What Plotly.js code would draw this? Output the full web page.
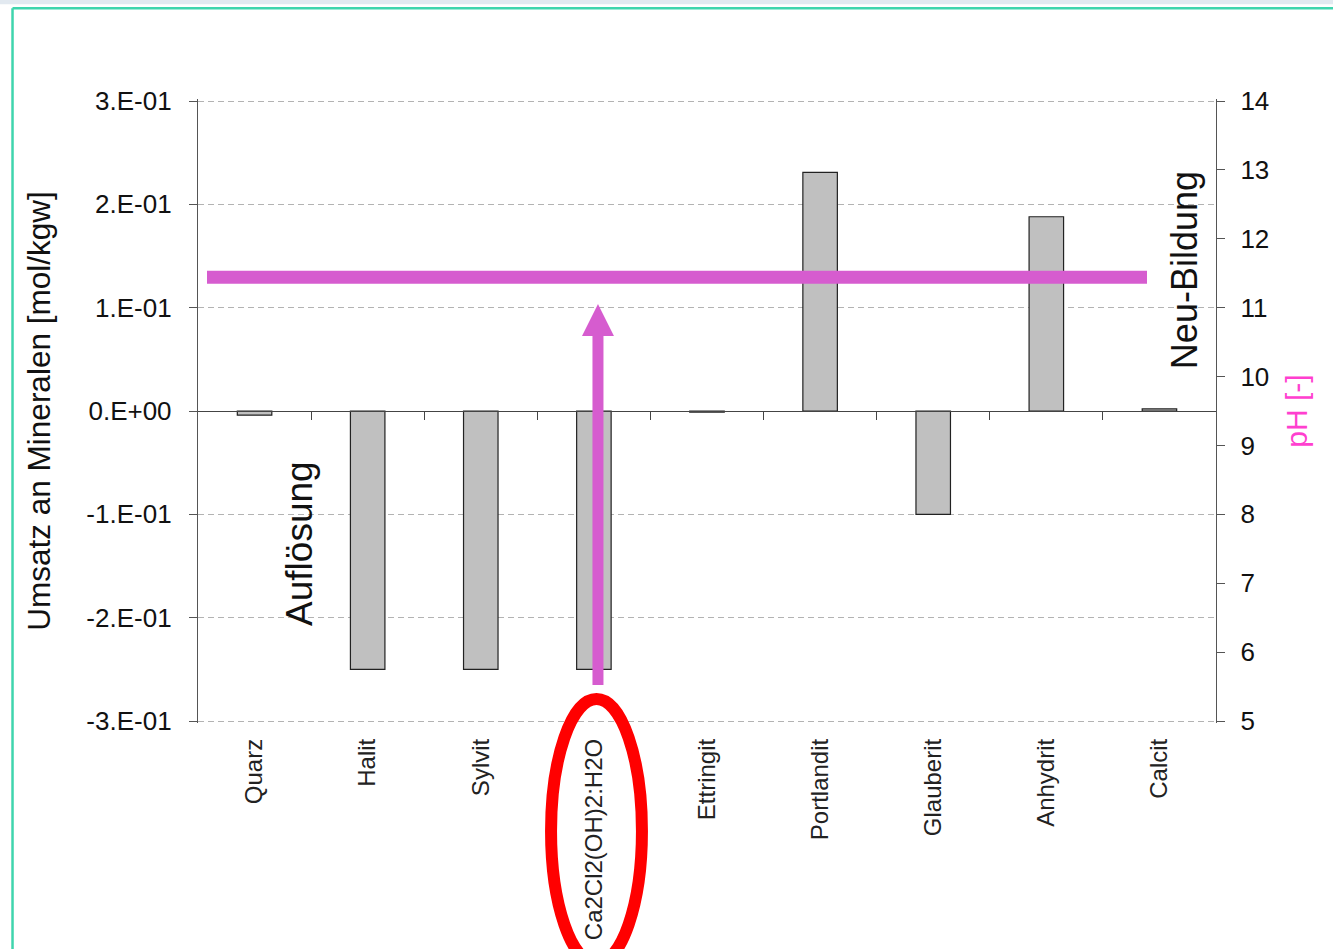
<!DOCTYPE html>
<html>
<head>
<meta charset="utf-8">
<script src="https://cdn.plot.ly/plotly-3.0.1.min.js"></script>
<style>
html,body{margin:0;padding:0;background:#fff;}
#chart{width:1333px;height:949px;}
</style>
</head>
<body>
<div id="chart"></div>
<script>
// ---- data ----
var minerals = ["Quarz", "Halit", "Sylvit", "Ca2Cl2(OH)2:H2O", "Ettringit", "Portlandit", "Glauberit", "Anhydrit", "Calcit"];
var umsatz = [-0.004, -0.25, -0.25, -0.25, -0.001, 0.231, -0.1, 0.188, 0.002];
var leftTickVals = [0.3, 0.2, 0.1, 0, -0.1, -0.2, -0.3];
var leftTickText = ["3.E-01", "2.E-01", "1.E-01", "0.E+00", "-1.E-01", "-2.E-01", "-3.E-01"];
var phTickVals = [5, 6, 7, 8, 9, 10, 11, 12, 13, 14];
var phValue = 11.44;
var phSpan = [0, 1];
var boundaryTicks = [0.5, 1.5, 2.5, 3.5, 4.5, 5.5, 6.5, 7.5];

var FONT = "Liberation Sans, Arial, sans-serif";
var MAG = "#d65ccf";

var traces = [
  {
    type: "bar", x: minerals, y: umsatz, xaxis: "x", yaxis: "y",
    width: 0.305,
    marker: {color: "#c0c0c0", line: {color: "#222", width: 1.2}},
    hoverinfo: "x+y"
  },
  {
    type: "scatter", mode: "lines", x: phSpan, y: [phValue, phValue],
    xaxis: "x2", yaxis: "y2",
    line: {color: MAG, width: 13}
  },
  {
    type: "scatter", mode: "lines", x: [], y: [], xaxis: "x3", yaxis: "y",
    hoverinfo: "skip"
  }
];

var layout = {
  width: 1333, height: 949,
  margin: {l: 198, r: 117, t: 99, b: 226, pad: 0},
  paper_bgcolor: "#fff", plot_bgcolor: "#fff",
  showlegend: false,
  font: {family: FONT, color: "#111"},
  xaxis: {
    type: "category", range: [-0.5, 8.5], anchor: "y",
    showline: false, ticks: "", showgrid: false, zeroline: false,
    tickangle: -90, tickfont: {size: 24, family: FONT, color: "#222"},
    ticklabelstandoff: 10, automargin: false
  },
  xaxis2: {
    overlaying: "x", anchor: "y2", range: [-0.00957, 1.0734], visible: false
  },
  xaxis3: {
    overlaying: "x", anchor: "free", position: 0.5, range: [-0.5, 8.5],
    tickvals: boundaryTicks, ticks: "outside", ticklen: 8, tickcolor: "#444", tickwidth: 1,
    showline: true, linecolor: "#444", linewidth: 1.2,
    showticklabels: false, showgrid: false, zeroline: false
  },
  yaxis: {
    range: [-0.30194, 0.30194], tickvals: leftTickVals, ticktext: leftTickText,
    ticks: "outside", ticklen: 8, tickcolor: "#555", tickwidth: 1,
    showline: true, linecolor: "#555", linewidth: 1.2,
    showgrid: true, gridcolor: "#b3b3b3", gridwidth: 1, griddash: "6px,4px",
    zeroline: false,
    tickfont: {size: 26, family: FONT, color: "#111"},
    ticklabelstandoff: 12,
    title: {text: "Umsatz an Mineralen [mol/kgw]", font: {size: 31.5, family: FONT, color: "#111"}, standoff: 26},
    automargin: false
  },
  yaxis2: {
    overlaying: "y", side: "right", anchor: "x", range: [4.971, 14.029], tickvals: phTickVals,
    ticks: "outside", ticklen: 8, tickcolor: "#555", tickwidth: 1,
    showline: true, linecolor: "#555", linewidth: 1.2,
    showgrid: false, zeroline: false,
    tickfont: {size: 26, family: FONT, color: "#111"},
    ticklabelstandoff: 10,
    title: {text: "pH [-]", font: {size: 30, family: FONT, color: "#ff3fcf"}, standoff: 17},
    automargin: false
  },
  annotations: [
    {text: "Auflösung", xref: "paper", yref: "paper", x: 0.1002, y: 0.287, textangle: -90,
     xanchor: "center", yanchor: "middle",
     showarrow: false, font: {size: 37, family: FONT, color: "#111"}},
    {text: "Neu-Bildung", xref: "paper", yref: "paper", x: 0.9686, y: 0.7258, textangle: -90,
     xanchor: "center", yanchor: "middle",
     showarrow: false, font: {size: 36, family: FONT, color: "#111"}}
  ],
  shapes: [
    {type: "rect", xref: "paper", yref: "paper", x0: -0.25, x1: 1.2, y0: 1.152, y1: 1.2,
     fillcolor: "#e2e9f0", line: {width: 0}, layer: "above"},
    {type: "line", xref: "paper", yref: "paper", x0: -0.1822, x1: -0.1822, y0: -0.4, y1: 1.1456,
     line: {color: "#3fd5ad", width: 2.5}, layer: "above"},
    {type: "line", xref: "paper", yref: "paper", x0: -0.1822, x1: 1.2, y0: 1.1456, y1: 1.1456,
     line: {color: "#3fd5ad", width: 2.5}, layer: "above"},
    {type: "line", xref: "paper", yref: "paper", x0: 0.3929, x1: 0.3929, y0: 0.0608, y1: 0.629,
     line: {color: MAG, width: 11}, layer: "above"},
    {type: "path", xref: "paper", yref: "paper", path: "M 0.3929 0.6715 L 0.3772 0.6202 L 0.4086 0.6202 Z",
     fillcolor: MAG, line: {width: 0}, layer: "above"},
    {type: "circle", xref: "paper", yref: "paper", x0: 0.3468, x1: 0.4361, y0: 0.0385, y1: -0.385,
     line: {color: "#ff0000", width: 12}, layer: "above"}
  ]
};

Plotly.newPlot("chart", traces, layout, {displayModeBar: false, staticPlot: true});
</script>
</body>
</html>
